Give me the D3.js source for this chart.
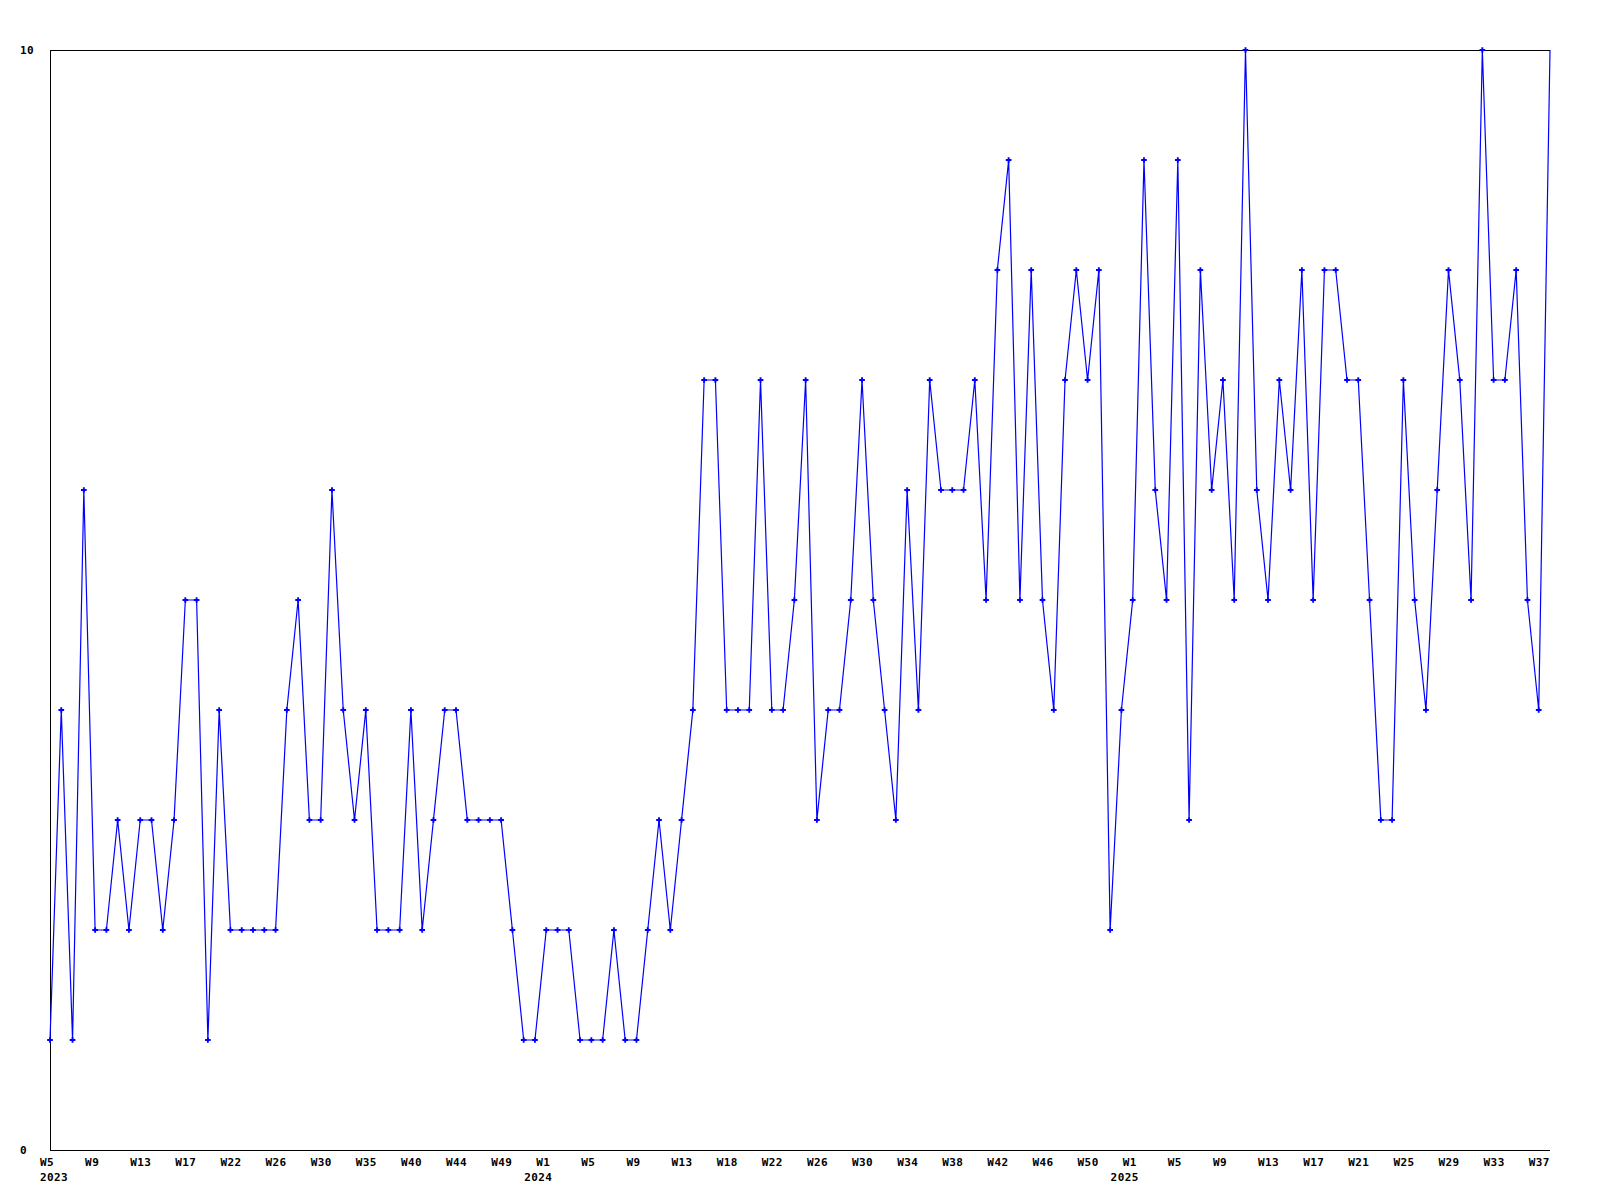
<!DOCTYPE html>
<html>
<head>
<meta charset="utf-8">
<script src="https://cdn.jsdelivr.net/npm/d3@7"></script>
<style>
  html, body { margin: 0; padding: 0; background: #fff; }
  svg { display: block; }
  text { font-family: "DejaVu Sans Mono", "Liberation Mono", monospace; font-weight: bold; font-size: 11px; letter-spacing: 0.4px; fill: #000; }
</style>
</head>
<body>
<svg id="chart" width="1600" height="1200"></svg>
<script>
// Weekly values, 2023 W5 .. 2025 W38 (134 points)
const values = [
  1, 4, 1, 6, 2, 2, 3, 2, 3, 3, 2, 3, 5, 5, 1, 4, 2, 2, 2, 2,
  2, 4, 5, 3, 3, 6, 4, 3, 4, 2, 2, 2, 4, 2, 3, 4, 4, 3, 3, 3,
  3, 2, 1, 1, 2, 2, 2, 1, 1, 1, 2, 1, 1, 2, 3, 2, 3, 4, 7, 7,
  4, 4, 4, 7, 4, 4, 5, 7, 3, 4, 4, 5, 7, 5, 4, 3, 6, 4, 7, 6,
  6, 6, 7, 5, 8, 9, 5, 8, 5, 4, 7, 8, 7, 8, 2, 4, 5, 9, 6, 5,
  9, 3, 8, 6, 7, 5, 10, 6, 5, 7, 6, 8, 5, 8, 8, 7, 7, 5, 3, 3,
  7, 5, 4, 6, 8, 7, 5, 10, 7, 7, 8, 5, 4, 10
];
// Tick labels shown every 4th point
const tickLabels = [
  "W5", "W9", "W13", "W17", "W22", "W26", "W30", "W35", "W40", "W44", "W49",
  "W1", "W5", "W9", "W13", "W18", "W22", "W26", "W30", "W34", "W38", "W42", "W46", "W50",
  "W1", "W5", "W9", "W13", "W17", "W21", "W25", "W29", "W33", "W37"
];
const tickStep = 4;
// Year labels: [point index, label]
const yearIdx = [0, 44, 96];
const yearLabels = ["2023", "2024", "2025"];
const yTicks = [0, 10];

const svg = d3.select("#chart");
const L = 50, R = 1550, T = 50, B = 1150;

const idx = d3.range(values.length);
const x = d3.scalePoint().domain(idx).range([L, R]);
const y = d3.scaleLinear().domain([0, 10]).range([B, T]);

// frame: top, left, bottom
svg.append("path")
  .attr("d", `M${R},${T + 0.5}H${L + 0.5}V${B + 0.5}H${R}`)
  .attr("fill", "none").attr("stroke", "#000").attr("stroke-width", 1)
  .attr("shape-rendering", "crispEdges");

// y labels
svg.selectAll("text.ylab").data(yTicks).join("text")
  .attr("class", "ylab")
  .attr("x", 20)
  .attr("y", d => y(d) + 4)
  .text(d => d);

// x tick labels (left-aligned just before the point)
const tickData = tickLabels.map((t, i) => ({ i: i * tickStep, t }));
svg.selectAll("text.xlab").data(tickData).join("text")
  .attr("class", "xlab")
  .attr("x", d => x(d.i) - 10)
  .attr("y", 1166)
  .attr("text-anchor", "start")
  .text(d => d.t);

svg.selectAll("text.year").data(yearIdx).join("text")
  .attr("class", "year")
  .attr("x", d => d === 0 ? 40 : x(d) + 6)
  .attr("y", 1181)
  .attr("text-anchor", d => d === 0 ? "start" : "end")
  .text((d, i) => yearLabels[i]);

// line
const line = d3.line().x((d, i) => x(i)).y(d => y(d));
svg.append("path")
  .datum(values)
  .attr("d", line)
  .attr("fill", "none")
  .attr("stroke", "#0000ff")
  .attr("stroke-width", 1.2);

// markers (last, partial week point drawn without marker)
const sym = d3.symbol().type(d3.symbolCross).size(18);
svg.selectAll("path.pt").data(values.slice(0, values.length - 1)).join("path")
  .attr("class", "pt")
  .attr("transform", (d, i) => `translate(${x(i)},${y(d)})`)
  .attr("d", sym)
  .attr("fill", "#0000ff");
</script>
</body>
</html>
